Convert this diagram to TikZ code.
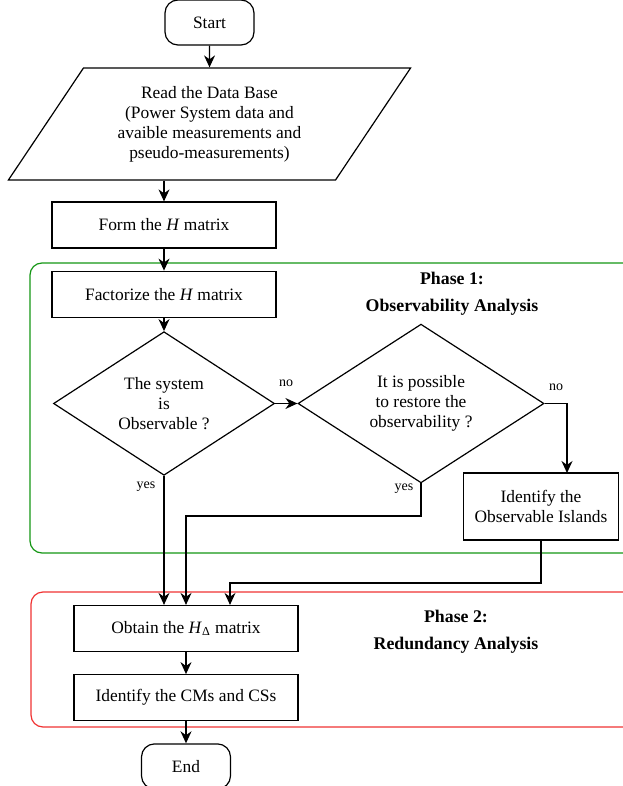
\documentclass[tikz,border=0pt]{standalone}
\usepackage{fontspec}
\setmainfont{Liberation Serif}
\usetikzlibrary{shapes.geometric,arrows.meta,positioning}

\definecolor{phaseone}{RGB}{20,150,20}
\definecolor{phasetwo}{RGB}{240,50,50}

\tikzset{
    every node/.style={font=\fontsize{8.7}{10}\selectfont},
    process/.style={draw, line width=0.6pt, minimum width=112pt, minimum height=23pt, inner sep=2pt, align=center},
    terminal/.style={draw, line width=0.6pt, rounded corners=6.5pt, minimum width=44.5pt, minimum height=22.5pt},
    inout/.style={draw, line width=0.6pt, trapezium, trapezium left angle=55, trapezium right angle=125,
        trapezium stretches=true, minimum width=201.5pt, minimum height=56pt, inner sep=1pt, align=center},
    decision/.style={draw, line width=0.6pt, diamond, inner sep=0pt, align=center},
    flow/.style={-{Stealth[length=6pt,width=5.5pt]}, line width=0.6pt},
    lbl/.style={font=\fontsize{7}{8}\selectfont},
    phasebox/.style={rounded corners=6pt, line width=0.6pt},
    phaselabel/.style={font=\bfseries\fontsize{8.9}{13.5}\selectfont, align=center}
}

\begin{document}
\begin{tikzpicture}[x=0.5pt, y=-0.5pt]
    \useasboundingbox (0,0) rectangle (622,786);

    % phase frames
    \draw[phasebox, phaseone] (30,263) rectangle (640,553);
    \draw[phasebox, phasetwo] (31,592) rectangle (640,727);
    \node[phaselabel] (phase1) at (452,293.5) {Phase 1:\\Observability Analysis};
    \node[phaselabel] (phase2) at (456,632) {Phase 2:\\Redundancy Analysis};

    % nodes
    \node[terminal] (start) at (209.5,22.5) {Start};
    \node[inout] (data) at (209.5,124) {Read the Data Base\\(Power System data and\\avaible measurements and\\pseudo-measurements)};
    \node[process] (formH) at (164,225) {Form the \textit{H} matrix};
    \node[process, below=11pt of formH] (factH) {Factorize the \textit{H} matrix};
    \node[decision, minimum width=110.5pt, minimum height=66.5pt] (obs) at (164,403.5) {The system\\is\\Observable ?};
    \node[decision, minimum width=123pt, minimum height=66.5pt] (restore) at (421,403.5) {It is possible\\to restore the\\observability ?};
    \node[process, minimum width=77.5pt, minimum height=33.5pt] (islands) at (541,506.5) {Identify the\\Observable Islands};
    \node[process] (obtainH) at (186,628.5) {Obtain the \textit{H}\textsubscript{Δ} matrix};
    \node[process, below=11pt of obtainH] (ident) {Identify the CMs and CSs};
    \node[terminal, below=11pt of ident] (finish) {End};

    % branch labels
    \node[lbl] (no1) at (286,383) {no};
    \node[lbl] (no2) at (556,387) {no};
    \node[lbl] (yes1) at (146,487) {yes};
    \node[lbl] (yes2) at (404,489) {yes};

    % junction points
    \coordinate (noend) at (567,473);
    \coordinate (yesjoin) at (186,516);
    \coordinate (isljoin) at (230,583);

    % connectors
    \draw[flow] (start) -- (data);
    \draw[flow] (data.south -| formH.north) -- (formH);
    \draw[flow] (formH) -- (factH);
    \draw[flow] (factH) -- (obs);
    \draw[flow] (obs) -- (restore);
    \draw[flow] (restore.east) -| (noend);
    \draw[flow] (obs.south) -- (obs.south |- obtainH.north);
    \draw[flow] (restore.south) |- (yesjoin) -- (yesjoin |- obtainH.north);
    \draw[flow] (islands.south) |- (isljoin) -- (isljoin |- obtainH.north);
    \draw[flow] (obtainH) -- (ident);
    \draw[flow] (ident) -- (finish);
\end{tikzpicture}
\end{document}
